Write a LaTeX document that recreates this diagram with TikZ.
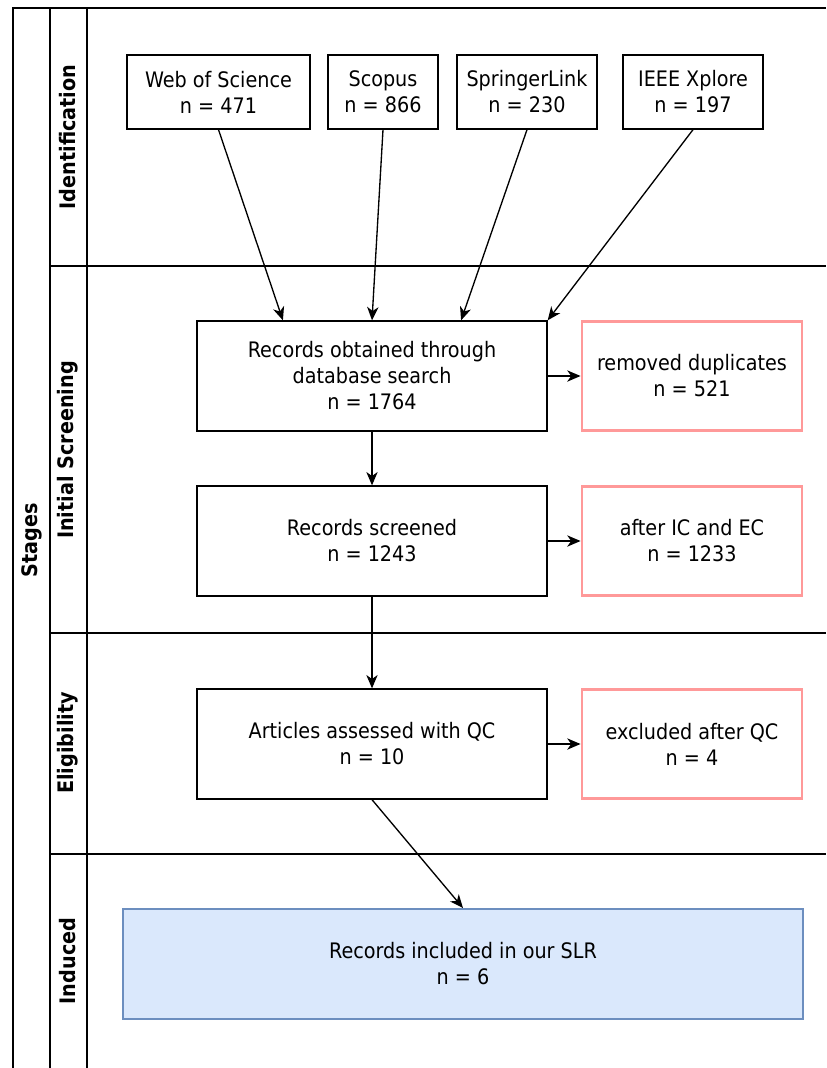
\documentclass[tikz,border=0pt]{standalone}
\usepackage{fontspec}
\setmainfont{DejaVu Sans Condensed}
\usetikzlibrary{arrows.meta}

\definecolor{pinkline}{RGB}{255,153,153}
\definecolor{bluefill}{RGB}{218,232,252}
\definecolor{blueline}{RGB}{108,142,191}

\begin{document}
\begin{tikzpicture}[x=0.75pt, y=-0.75pt, line width=1pt, >={Stealth[length=10pt, width=8.5pt, inset=3pt]},
    font=\fontsize{16}{19.5}\selectfont,
    main/.style = {draw, rectangle, align=center, inner sep=0pt},
    db/.style = {main, minimum height=55.5pt},
    step1/.style = {main, minimum width=262.5pt, minimum height=82.5pt},
    removed/.style = {main, draw=pinkline, line width=2.2pt, minimum width=165pt, minimum height=81.75pt},
    lane/.style = {rotate=90, font=\bfseries\fontsize{16}{19}\selectfont}]
    \useasboundingbox (0,0) rectangle (826,1068);
    % swimlanes
    \draw[line width=1.5pt] (13,1068) -- (13,8) -- (826,8);
    \draw[line width=1.5pt] (50,8) -- (50,1068);
    \draw[line width=1.5pt] (87,8) -- (87,1068);
    \draw[line width=1.5pt] (50,266) -- (826,266);
    \draw[line width=1.5pt] (50,633) -- (826,633);
    \draw[line width=1.5pt] (50,854) -- (826,854);
    \node[lane] (s) at (32,540) {Stages};
    \node[lane] (l1) at (68,137) {Identification};
    \node[lane] (l2) at (68,450) {Initial Screening};
    \node[lane] (l3) at (68,743) {Eligibility};
    \node[lane] (l4) at (68,961) {Induced};
    % databases
    \node[db, minimum width=137.25pt] (1) at (218.5,92) {Web of Science\\n = 471};
    \node[db, minimum width=82.5pt] (2) at (383,92) {Scopus\\n = 866};
    \node[db, minimum width=105pt] (3) at (527,92) {SpringerLink\\n = 230};
    \node[db, minimum width=105pt] (4) at (693,92) {IEEE Xplore\\n = 197};
    % screening
    \node[step1] (5) at (372,376) {Records obtained through\\database search\\n = 1764};
    \node[removed] (6) [right of=5, node distance=240pt] {removed duplicates\\n = 521};
    \node[step1] (7) [below of=5, node distance=123.75pt] {Records screened\\n = 1243};
    \node[removed] (8) [right of=7, node distance=240pt] {after IC and EC\\n = 1233};
    \node[step1] (9) [below of=7, node distance=152.25pt] {Articles assessed with QC\\n = 10};
    \node[removed] (10) [right of=9, node distance=240pt] {excluded after QC\\n = 4};
    \node[main, draw=blueline, fill=bluefill, line width=1.5pt, minimum width=510pt, minimum height=82.5pt] (11) at (463,964) {Records included in our SLR\\n = 6};
    \draw[->] (1.south) -- (5.148);
    \draw[->] (2.south) -- (5.north);
    \draw[->] (3.south) -- (5.32);
    \draw[->] (4.south) -- (5.north east);
    \draw[->] (5) -- (6);
    \draw[->] (5) -- (7);
    \draw[->] (7) -- (8);
    \draw[->] (7) -- (9);
    \draw[->] (9) -- (10);
    \draw[->] (9.south) -- (11.north);
\end{tikzpicture}
\end{document}
